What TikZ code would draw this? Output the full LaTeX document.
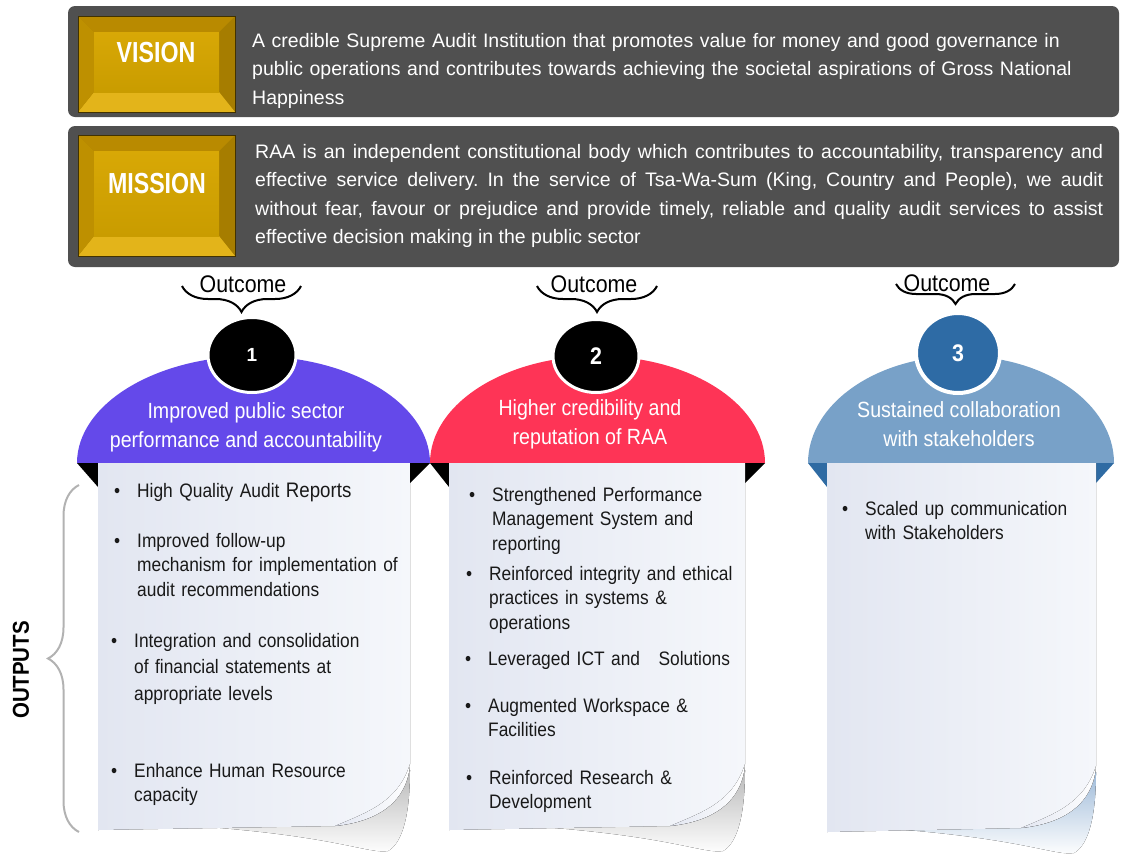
\documentclass[tikz,border=0pt]{standalone}
\usepackage{fontspec}
\setmainfont{Liberation Sans}
\newfontfamily\narrowfont{Liberation Sans}[FakeStretch=0.89]
\newfontfamily\btnfont{Liberation Sans}[FakeStretch=0.8]
\usetikzlibrary{shapes.geometric,decorations.pathreplacing,positioning}

\definecolor{panelgray}{HTML}{505050}
\definecolor{goldface}{HTML}{C99C00}
\definecolor{goldhi}{HTML}{D8A806}
\definecolor{goldtop}{HTML}{B98A00}
\definecolor{goldbot}{HTML}{E3B41A}
\definecolor{goldleft}{HTML}{BE9000}
\definecolor{goldright}{HTML}{A67D00}
\definecolor{domeA}{HTML}{6449EA}
\definecolor{domeB}{HTML}{FE3456}
\definecolor{domeC}{HTML}{78A1C8}
\definecolor{tipC}{HTML}{2F6BA3}
\definecolor{discC}{HTML}{2E6BA5}
\definecolor{cardleft}{HTML}{E2E6F1}
\definecolor{cardright}{HTML}{F5F7FB}
\definecolor{shadeC}{HTML}{9FBBD9}

% bevelled gold button: x1 y1 x2 y2
\newcommand{\goldbevel}[4]{%
  \fill[goldright] (#1,#2) rectangle (#3,#4);
  \fill[goldtop] (#1,#2) -- (#3,#2) -- (#3-16,#2+16) -- (#1+16,#2+16) -- cycle;
  \fill[goldbot] (#1,#4) -- (#3,#4) -- (#3-16,#4-20) -- (#1+16,#4-20) -- cycle;
  \fill[goldleft] (#1,#2) -- (#1+16,#2+16) -- (#1+16,#4-20) -- (#1,#4) -- cycle;
  \fill[top color=goldhi, bottom color=goldface] (#1+16,#2+16) rectangle (#3-16,#4-20);
  \draw[black!60!goldright, line width=1pt] (#1,#2) rectangle (#3,#4);
}

% curled sheet: left, right, bottom, shadow colour
\newcommand{\paper}[4]{%
  \fill[top color=#4, bottom color=white] (#2-190,#3-2) .. controls (#2-70,#3+8) and (#2-40,#3+24) .. (#2-22,#3+21)
     .. controls (#2-6,#3+12) and (#2,#3-20) .. (#2,#3-60) -- cycle;
  \fill[card] (#1,463) -- (#2,463) -- (#2,#3-66) .. controls (#2-2,#3-38) and (#2-20,#3-10) .. (#2-75,#3-4)
     -- (#1,#3) -- cycle;
  \fill[left color=cardleft, right color=white] (#2,#3-66) .. controls (#2-2,#3-38) and (#2-20,#3-10) .. (#2-75,#3-4)
     .. controls (#2-42,#3-18) and (#2-12,#3-28) .. (#2,#3-66) -- cycle;
}

\newcommand{\bul}{\llap{\textbullet\hspace{17pt}}}

\begin{document}
\frenchspacing
\begin{tikzpicture}[x=1pt,y=-1pt,
  panel/.style={fill=panelgray, rounded corners=7pt},
  btnlabel/.style={text=white, font=\btnfont\bfseries\fontsize{29}{32}\selectfont},
  paneltext/.style={text=white, anchor=base west, inner sep=0, align=left, text width=860pt,
    font=\fontsize{19.5}{28.5}\selectfont},
  outcome/.style={font=\narrowfont\fontsize{24}{28}\selectfont},
  obrace/.style={decorate, decoration={brace, mirror, amplitude=26pt}, line width=2pt},
  numdisc/.style={ellipse, minimum width=88pt, minimum height=75pt, draw=white, line width=3pt, text=white,
    font=\narrowfont\bfseries\fontsize{24}{26}\selectfont},
  dometext/.style={text=white, align=center, font=\narrowfont\fontsize{22}{29}\selectfont},
  card/.style={left color=cardleft, right color=cardright},
  itemtext/.style={anchor=base west, inner sep=0, align=left, text width=280pt, text=black!90,
    font=\narrowfont\fontsize{19.5}{24.5}\selectfont},
]
\useasboundingbox (0,0) rectangle (1121,854);

% vision and mission
\fill[panel] (68,6) rectangle (1119,117);
\fill[panel] (68,126) rectangle (1119,267);
\goldbevel{78}{16}{235}{112}
\goldbevel{78}{135}{235}{256}
\node (vision) [btnlabel] at (156,53) {VISION};
\node (mission) [btnlabel] at (157,184) {MISSION};
\node (vistext) [paneltext] at (252,47) {A credible Supreme Audit Institution that promotes value for money and good governance in\\
  public operations and contributes towards achieving the societal aspirations of Gross National\\Happiness};
\node (mistext) [paneltext, text width=848pt, align=justify] at (255,158) {RAA is an independent constitutional body which contributes to accountability, transparency and\linebreak
  effective service delivery. In the service of Tsa-Wa-Sum (King, Country and People), we audit\linebreak
  without fear, favour or prejudice and provide timely, reliable and quality audit services to assist\linebreak
  effective decision making in the public sector};

% outcome domes
\fill[domeA] (77,463) arc[start angle=180, end angle=360, x radius=176.5, y radius=107] -- cycle;
\fill[domeB] (430,463) arc[start angle=180, end angle=360, x radius=167.5, y radius=107] -- cycle;
\fill[domeC] (808,463) arc[start angle=180, end angle=360, x radius=153, y radius=107] -- cycle;

\node (disc1) [numdisc, fill=black, font=\bfseries\fontsize{19}{22}\selectfont] at (252,355) {1};
\node (disc2) [numdisc, fill=black, minimum width=86pt, minimum height=73pt] at (596,356) {2};
\node (disc3) [numdisc, fill=discC, line width=4pt, minimum width=84pt, minimum height=80pt] at (958,353) {3};

\node (dome1) [dometext] at (246,427) {Improved public sector\\performance and accountability};
\node (dome2) [dometext] at (590,424) {Higher credibility and\\reputation of RAA};
\node (dome3) [dometext] at (959,424) {Sustained collaboration\\with stakeholders};

% outcome captions
\node (oc1) [outcome] at (243,284) {Outcome};
\node (oc2) [outcome] at (594,284) {Outcome};
\node (oc3) [outcome] at (947,283) {Outcome};
\draw[obrace] (182,286) -- (301,286);
\draw[obrace] (537,286) -- (657,286);
\draw[obrace, decoration={amplitude=20pt}] (896,284) -- (1015,284);

% ribbon tips
\fill[black] (77,463) -- (98,463) -- (98,487) -- cycle;
\fill[black] (410,463) -- (430,463) -- (410,483) -- cycle;
\fill[black] (430,463) -- (449,463) -- (449,487) -- cycle;
\fill[black] (745,463) -- (765,463) -- (745,483) -- cycle;
\fill[tipC] (808,463) -- (827,463) -- (827,487) -- cycle;
\fill[tipC] (1096,463) -- (1114,463) -- (1096,483) -- cycle;

% output sheets
\paper{98}{410}{830}{gray!55}
\paper{449}{745}{830}{gray!55}
\paper{827}{1096}{832}{shadeC}

\node (o1a) [itemtext] at (137,497) {\bul High Quality Audit {\fontsize{21}{24}\selectfont Reports}};
\node (o1b) [itemtext] at (137,547) {\bul Improved follow-up\\mechanism for implementation of\\audit recommendations};
\node (o1c) [itemtext, font=\narrowfont\fontsize{19.5}{26.5}\selectfont] at (134,647) {\bul Integration and consolidation\\of financial statements at\\appropriate levels};
\node (o1d) [itemtext] at (134,777) {\bul Enhance Human Resource\\capacity};

\node (o2a) [itemtext] at (492,501) {\bul Strengthened Performance\\Management System and\\reporting};
\node (o2b) [itemtext] at (489,580) {\bul Reinforced integrity and ethical\\practices in systems \&\\operations};
\node (o2c) [itemtext] at (488,665) {\bul Leveraged ICT and\hspace{12pt} Solutions};
\node (o2d) [itemtext] at (488,712) {\bul Augmented Workspace \&\\Facilities};
\node (o2e) [itemtext] at (489,784) {\bul Reinforced Research \&\\Development};

\node (o3a) [itemtext] at (865,515) {\bul Scaled up communication\\with Stakeholders};

% outputs brace
\draw[gray!60, line width=2pt, decorate, decoration={brace, amplitude=31pt}] (79,832) -- (79,485);
\node (outputs) [rotate=90, font=\narrowfont\bfseries\fontsize{23}{26}\selectfont] at (21,670) {OUTPUTS};
\end{tikzpicture}
\end{document}
